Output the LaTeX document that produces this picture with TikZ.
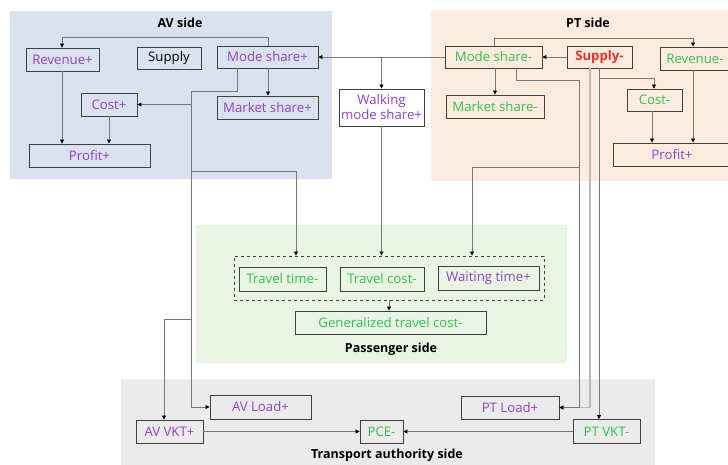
\documentclass[tikz,border=0pt]{standalone}
\usepackage{fontspec}
\setmainfont{Open Sans}
\usetikzlibrary{arrows.meta}
\definecolor{avbg}{RGB}{218,226,239}
\definecolor{ptbg}{RGB}{253,235,222}
\definecolor{pabg}{RGB}{234,244,226}
\definecolor{trbg}{RGB}{235,235,235}
\definecolor{boxc}{RGB}{64,64,64}
\definecolor{linec}{RGB}{120,120,120}
\definecolor{lightl}{RGB}{185,185,185}
\definecolor{pur}{RGB}{142,68,196}
\definecolor{grn}{RGB}{52,190,88}
\definecolor{redt}{RGB}{232,52,40}
\begin{document}
\begin{tikzpicture}[x=1pt,y=-1pt,
  box/.style={draw=boxc, line width=0.9pt, inner sep=0pt, font=\fontsize{13.2}{15}\selectfont},
  pbox/.style={box, text=pur},
  gbox/.style={box, text=grn},
  ttl/.style={font=\fontsize{12.5}{15}\selectfont\bfseries, text=black},
  conn/.style={draw=linec, line width=0.8pt, -{Triangle[length=4pt,width=4pt,color=black]}},
  connl/.style={draw=lightl, line width=1.4pt, -{Triangle[length=4pt,width=4pt,color=black]}},
  plain/.style={draw=linec, line width=0.8pt}]
\useasboundingbox (0,0) rectangle (728,464);
% backgrounds
\fill[avbg] (10,11) rectangle (332,179);
\fill[ptbg] (431,10) rectangle (740,181);
\fill[pabg] (196,225) rectangle (567,363);
\fill[trbg] (121,379) rectangle (655,470);
% titles
\node[ttl] (tav) at (180,23) {AV side};
\node[ttl] (tpt) at (588,23) {PT side};
\node[ttl] (tpa) at (391,349) {Passenger side};
\node[ttl] (ttr) at (387,455) {Transport authority side};
% AV side
\node[pbox, minimum width=73pt, minimum height=23pt] (revp) at (62.5,59.5) {Revenue+};
\node[box, minimum width=64pt, minimum height=22pt] (supply) at (169,58) {Supply};
\node[pbox, minimum width=101pt, minimum height=22pt] (msp) at (267.5,57) {Mode share+};
\node[pbox, minimum width=56pt, minimum height=23pt] (costp) at (109,104.5) {Cost+};
\node[pbox, minimum width=101pt, minimum height=23pt] (mktp) at (267.5,107.5) {Market share+};
\node[pbox, minimum width=121pt, minimum height=23pt] (profp) at (89.5,155.5) {Profit+};
% walking
\node[pbox, minimum width=85pt, minimum height=37pt, align=center, fill=white] (walk) at (381.5,107.5) {Walking\\mode share+};
% PT side
\node[gbox, minimum width=97pt, minimum height=22pt] (msm) at (493.5,57) {Mode share-};
\node[box, text=redt, font=\fontsize{13.2}{15}\selectfont\bfseries, minimum width=65pt, minimum height=22pt] (supm) at (599.5,57) {Supply-};
\node[gbox, minimum width=70pt, minimum height=23pt] (revm) at (695,58.5) {Revenue-};
\node[gbox, minimum width=98pt, minimum height=23pt] (mktm) at (495,106.5) {Market share-};
\node[gbox, minimum width=55pt, minimum height=22pt] (costm) at (654.5,100) {Cost-};
\node[pbox, minimum width=118pt, minimum height=23pt] (profm) at (672,154.5) {Profit+};
% passenger side
\node[draw=boxc, dashed, line width=0.9pt, minimum width=310pt, minimum height=44pt, inner sep=0pt] (dash) at (389,278) {};
\node[gbox, minimum width=87pt, minimum height=24pt] (tt) at (282.5,279) {Travel time-};
\node[gbox, minimum width=84pt, minimum height=24pt] (tc) at (382,279) {Travel cost-};
\node[pbox, minimum width=101pt, minimum height=24pt] (wt) at (488.5,278) {Waiting time+};
\node[gbox, minimum width=191pt, minimum height=23pt] (gtc) at (390.5,322.5) {Generalized travel cost-};
% transport authority side
\node[pbox, minimum width=101pt, minimum height=24pt] (avl) at (260.5,407) {AV Load+};
\node[pbox, minimum width=67pt, minimum height=23pt] (avvkt) at (169.5,431.5) {AV VKT+};
\node[gbox, minimum width=43pt, minimum height=23pt] (pce) at (381.5,431.5) {PCE-};
\node[pbox, minimum width=98pt, minimum height=23pt] (ptl) at (510,407.5) {PT Load+};
\node[gbox, minimum width=67pt, minimum height=24pt] (ptvkt) at (606.5,431.5) {PT VKT-};
% coordinates
\coordinate (tr) at (191,91);
% AV connectors
\draw[conn] (268,0 |- msp.north) |- (62,37) -- (62,0 |- revp.north);
\draw[conn] (268,0 |- msp.south) -- (268,0 |- mktp.north);
\draw[conn] (62,0 |- revp.south) -- (62,0 |- profp.north);
\draw[conn] (costp.south) -- (costp.south |- profp.north);
\draw[conn] (237,0 |- msp.south) |- (tr) -- (tr |- avl.west) -- (avl.west);
\draw[conn] (tr |- costp.east) -- (costp.east);
\draw[conn] (191,171) -| (296,0 |- dash.north);
\draw[conn] (191,319) -| (164,0 |- avvkt.north);
% mode share links
\draw[conn] (msm.west) -- (msp.east);
\draw[conn] (walk.north |- msm.west) -- (walk.north);
\draw[conn] (walk.south) -- (walk.south |- dash.north);
\draw[conn] (supm.west) -- (msm.east);
% PT connectors
\draw[conn] (494,0 |- msm.north) |- (693,38) -- (693,0 |- revm.north);
\draw[conn] (495,0 |- msm.south) -- (495,0 |- mktm.north);
\draw[connl] (590,0 |- supm.south) -- (590,0 |- ptl.east) -- (ptl.east);
\draw[conn] (516,0 |- msm.south) |- (579,80) -- (579,0 |- ptl.east) -- (ptl.east);
\draw[conn] (579,167) -| (472,0 |- dash.north);
\draw[conn] (599,0 |- supm.south) -- (599,0 |- ptvkt.north);
\draw[conn] (599,78) -| (654,0 |- costm.north);
\draw[conn] (652,0 |- costm.south) -- (652,0 |- profm.north);
\draw[conn] (693,0 |- revm.south) -- (693,0 |- profm.north);
% passenger / authority
\draw[conn] (dash.south) -- (dash.south |- gtc.north);
\draw[conn] (avvkt.east) -- (pce.west);
\draw[conn] (ptvkt.west) -- (pce.east);
\end{tikzpicture}
\end{document}
